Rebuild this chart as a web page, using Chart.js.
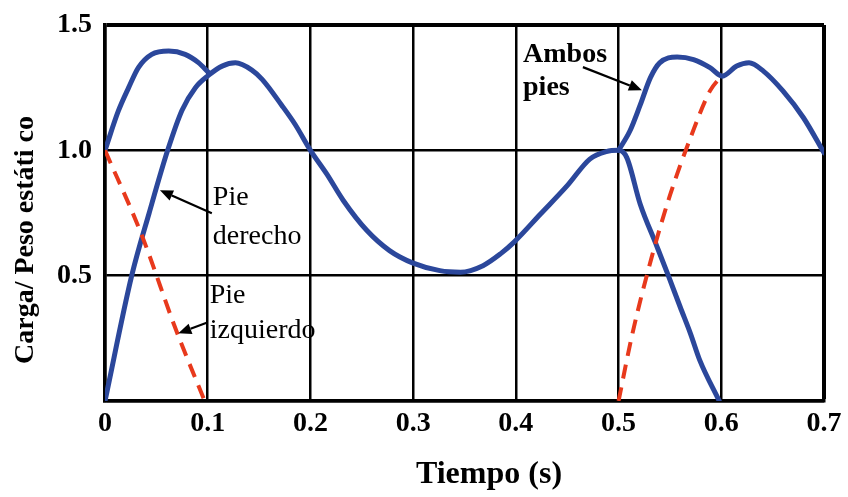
<!DOCTYPE html>
<html>
<head>
<meta charset="utf-8">
<script src="https://cdn.jsdelivr.net/npm/chart.js@4.4.1/dist/chart.umd.min.js"></script>
<style>
  html, body { margin: 0; padding: 0; background: #fff; }
  #wrap { width: 848px; height: 497px; }
</style>
</head>
<body>
<div id="wrap"><canvas id="loadChart"></canvas></div>
<script>
// tick labels
const xTicks = [0, 0.1, 0.2, 0.3, 0.4, 0.5, 0.6, 0.7];
const yTicks = [0.5, 1.0, 1.5];

// right foot (blue, full stance)
const rightFootT = [0, 0.026, 0.043, 0.061, 0.075, 0.088, 0.101, 0.114, 0.127, 0.143, 0.153, 0.172, 0.185, 0.2,
  0.216, 0.232, 0.255, 0.277, 0.3, 0.326, 0.346, 0.368, 0.385, 0.398, 0.424, 0.45, 0.472, 0.488, 0.5,
  0.508, 0.521, 0.537, 0.549, 0.56, 0.57, 0.579, 0.598];
const rightFootLoad = [0, 0.5, 0.75, 1.0, 1.16, 1.25, 1.30, 1.336, 1.349, 1.32, 1.283, 1.18, 1.104, 1.0,
  0.905, 0.80, 0.68, 0.60, 0.55, 0.52, 0.514, 0.54, 0.587, 0.633, 0.746, 0.859, 0.965, 0.995, 1.0,
  0.971, 0.786, 0.62, 0.494, 0.375, 0.269, 0.163, 0];

// both feet, double support at start
const bothStartT = [0, 0.013, 0.023, 0.0325, 0.0455, 0.062, 0.078, 0.091, 0.101];
const bothStartLoad = [1.0, 1.157, 1.25, 1.33, 1.383, 1.396, 1.383, 1.35, 1.31];

// both feet, double support at end
const bothEndT = [0.5, 0.511, 0.521, 0.531, 0.54, 0.557, 0.573, 0.589, 0.601, 0.615, 0.627, 0.641, 0.66, 0.68, 0.7];
const bothEndLoad = [1.0, 1.077, 1.18, 1.29, 1.349, 1.372, 1.362, 1.33, 1.296, 1.336, 1.349, 1.316, 1.237, 1.13, 0.99];

// left foot (red dashed), unloading and loading
const leftOffT = [0, 0.035, 0.069, 0.097];
const leftOffLoad = [1.0, 0.67, 0.285, 0];
const leftOnT = [0.5, 0.513, 0.532, 0.55, 0.57, 0.589, 0.6];
const leftOnLoad = [0, 0.26, 0.57, 0.82, 1.05, 1.237, 1.296];

const BLUE = "#2b479b";
const RED = "#e8391c";
const SERIF = "'Liberation Serif', 'Times New Roman', serif";

function pts(ts, vs) {
  return ts.map((t, i) => ({ x: t, y: vs[i] }));
}

function blueLine(ts, vs) {
  return {
    data: pts(ts, vs),
    borderColor: BLUE,
    borderWidth: 5,
    pointRadius: 0,
    cubicInterpolationMode: "monotone",
    borderCapStyle: "round",
    borderJoinStyle: "round",
    fill: false,
  };
}

function redLine(ts, vs) {
  return {
    data: pts(ts, vs),
    borderColor: RED,
    borderWidth: 4,
    borderDash: [14, 9],
    pointRadius: 0,
    cubicInterpolationMode: "monotone",
    fill: false,
  };
}

// annotations, in data units
const notes = [
  { lines: ["Pie", "derecho"], x: 0.105, y: [0.782, 0.626], bold: false, from: [0.104, 0.749], to: [0.0535, 0.841] },
  { lines: ["Pie", "izquierdo"], x: 0.102, y: [0.391, 0.251], bold: false, from: [0.099, 0.312], to: [0.0714, 0.27] },
  { lines: ["Ambos", "pies"], x: 0.407, y: [1.352, 1.221], bold: true, from: [0.4653, 1.332], to: [0.5227, 1.24] },
];

function arrow(ctx, x1, y1, x2, y2) {
  const a = Math.atan2(y2 - y1, x2 - x1);
  const len = 13, half = 5.5;
  const bx = x2 - len * Math.cos(a), by = y2 - len * Math.sin(a);
  ctx.beginPath();
  ctx.moveTo(x1, y1);
  ctx.lineTo(bx, by);
  ctx.stroke();
  ctx.beginPath();
  ctx.moveTo(x2, y2);
  ctx.lineTo(bx + half * Math.sin(a), by - half * Math.cos(a));
  ctx.lineTo(bx - half * Math.sin(a), by + half * Math.cos(a));
  ctx.closePath();
  ctx.fill();
}

const labelsPlugin = {
  id: "labelsPlugin",
  afterDraw(chart) {
    const ctx = chart.ctx;
    const xs = chart.scales.x, ys = chart.scales.y;
    ctx.save();
    ctx.fillStyle = "#000";
    ctx.strokeStyle = "#000";
    ctx.lineWidth = 2.2;
    ctx.textAlign = "left";
    ctx.textBaseline = "alphabetic";
    notes.forEach(n => {
      ctx.font = (n.bold ? "bold " : "") + "28px " + SERIF;
      n.lines.forEach((s, i) => {
        ctx.fillText(s, xs.getPixelForValue(n.x), ys.getPixelForValue(n.y[i]));
      });
      arrow(ctx, xs.getPixelForValue(n.from[0]), ys.getPixelForValue(n.from[1]),
        xs.getPixelForValue(n.to[0]), ys.getPixelForValue(n.to[1]));
    });

    // axis titles
    ctx.textAlign = "center";
    ctx.textBaseline = "middle";
    ctx.font = "bold 32px " + SERIF;
    ctx.fillText("Tiempo (s)", 489, 475);
    ctx.translate(26, 240);
    ctx.rotate(-Math.PI / 2);
    ctx.font = "bold 28px " + SERIF;
    ctx.fillText("Carga/ Peso estáti co", 0, 0);
    ctx.restore();
  },
};

const gridLine = (max) => (c) => (c.tick && c.tick.value === max ? 4 : 2.5);

new Chart(document.getElementById("loadChart").getContext("2d"), {
  type: "line",
  data: {
    datasets: [
      redLine(leftOffT, leftOffLoad),
      redLine(leftOnT, leftOnLoad),
      blueLine(rightFootT, rightFootLoad),
      blueLine(bothStartT, bothStartLoad),
      blueLine(bothEndT, bothEndLoad),
    ],
  },
  options: {
    responsive: true,
    maintainAspectRatio: false,
    animation: false,
    layout: { padding: { top: 25, right: 24, left: 0, bottom: 0 } },
    plugins: {
      legend: { display: false },
      tooltip: { enabled: false },
    },
    scales: {
      x: {
        type: "linear",
        min: 0,
        max: 0.7,
        afterFit: (s) => { s.height = 96; },
        afterBuildTicks: (s) => { s.ticks = xTicks.map(v => ({ value: v })); },
        ticks: {
          color: "#000",
          padding: 6,
          font: { family: SERIF, size: 28, weight: "bold" },
          callback: (v) => (v === 0 ? "0" : v.toFixed(1)),
        },
        grid: { color: "#000", lineWidth: gridLine(0.7), drawTicks: false },
        border: { display: true, color: "#000", width: 3.5 },
      },
      y: {
        min: 0,
        max: 1.5,
        afterFit: (s) => {
          s.width = 105;
          s.paddingTop = 0;
          s.paddingBottom = 0;
        },
        afterBuildTicks: (s) => { s.ticks = [0].concat(yTicks).map(v => ({ value: v })); },
        ticks: {
          color: "#000",
          padding: 13,
          font: { family: SERIF, size: 28, weight: "bold" },
          callback: (v) => (v === 0 ? "" : v.toFixed(1)),
        },
        grid: { color: "#000", lineWidth: gridLine(1.5), drawTicks: false },
        border: { display: true, color: "#000", width: 3.5 },
      },
    },
  },
  plugins: [labelsPlugin],
});
</script>
</body>
</html>
